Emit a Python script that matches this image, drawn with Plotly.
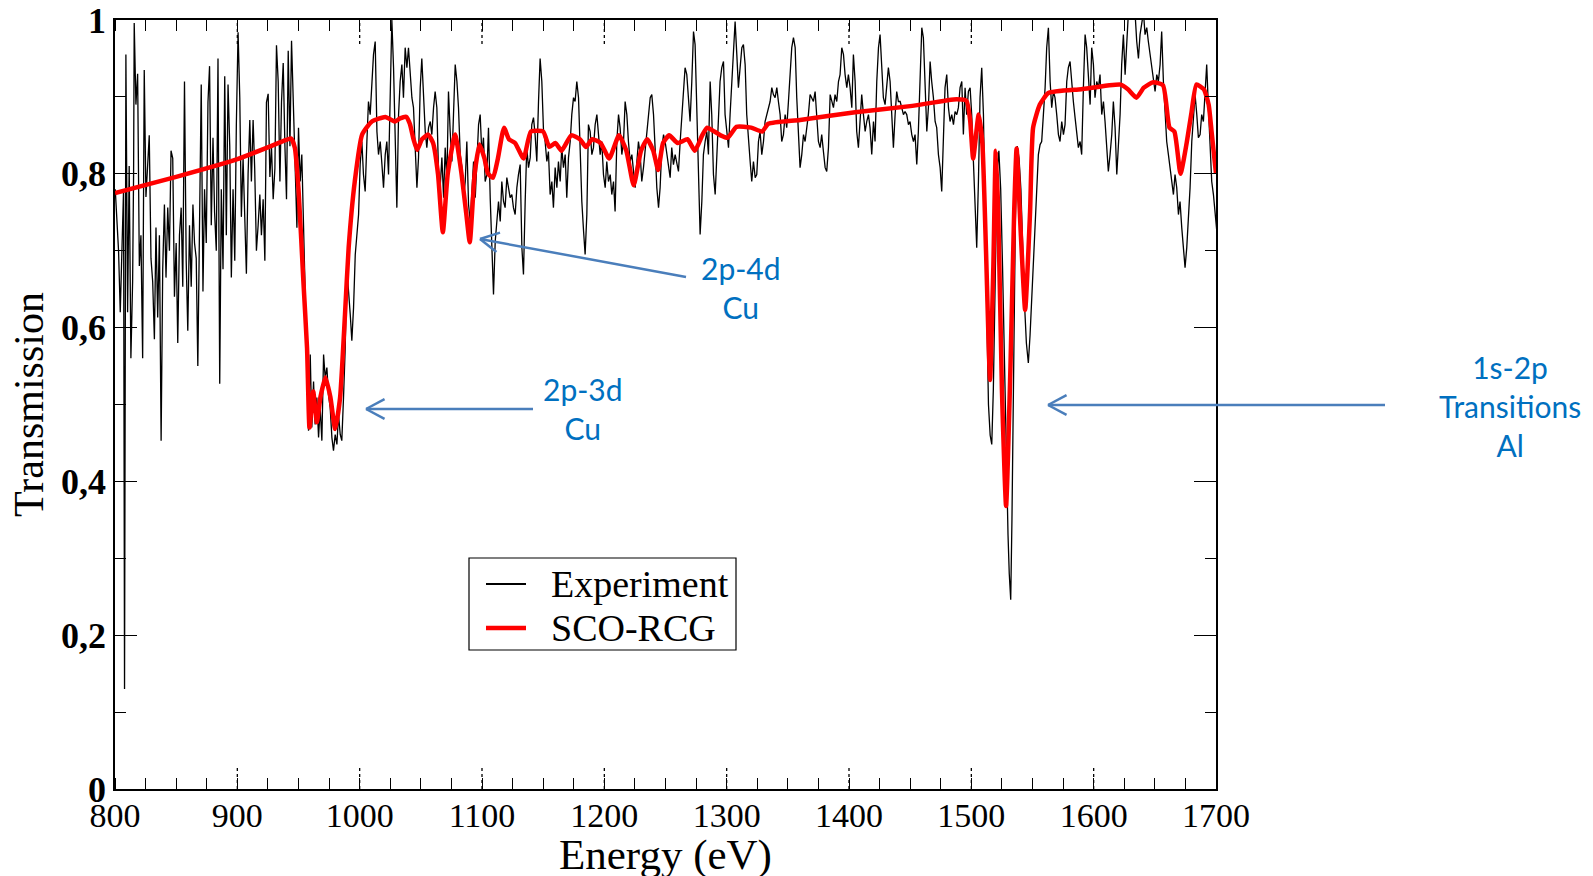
import math
import plotly.graph_objects as go

# ---------------- data ----------------
exp_energy = [
800.2,801.5,802.9,804.3,805.6,807.0,807.8,808.9,810.3,811.6,813.0,814.4,815.2,815.7,817.1,818.5,819.9,821.2,822.6,823.9,
825.3,826.7,828.0,829.4,830.8,832.2,833.5,834.9,836.3,837.7,839.0,840.4,841.7,843.1,844.5,845.8,847.2,848.6,850.0,851.3,
852.7,854.1,855.4,856.8,858.2,859.5,860.9,862.3,863.7,865.0,866.4,867.7,869.1,870.5,871.9,873.2,874.6,876.0,877.3,878.7,
880.1,881.4,882.8,884.2,885.6,886.9,888.3,889.7,891.0,892.4,893.8,895.1,896.5,897.9,899.2,900.6,902.0,903.3,904.7,906.1,
907.4,908.8,910.2,911.5,912.9,914.2,915.6,917.0,918.4,919.7,921.1,922.5,923.8,925.2,926.6,927.9,929.3,930.7,932.0,933.4,
934.8,936.1,937.5,938.9,940.2,941.6,943.0,944.3,945.7,
947.3,948.7,950.0,951.4,952.7,954.1,955.5,956.8,958.2,959.6,960.9,962.3,963.6,965.0,966.4,967.7,969.1,970.5,971.8,973.2,
974.5,975.9,977.3,978.6,980.0,981.4,982.7,984.1,985.4,986.8,988.2,989.5,990.9,992.3,993.6,995.0,996.4,997.7,999.1,1000.4,
1001.8,1003.1,1004.5,1005.9,1007.2,1008.6,1010.0,1011.3,1012.7,1014.1,1015.4,1016.8,1018.2,1019.5,1020.9,1022.2,1023.6,1024.9,1026.3,1027.7,
1029.0,1030.4,1031.8,1033.1,1034.5,1035.8,1037.2,1038.6,1039.9,1041.3,1042.7,1044.0,1045.4,1046.8,1048.1,1049.5,1050.8,1052.2,1053.6,1054.9,
1056.3,1057.7,1059.0,1060.4,1061.7,1063.1,1064.5,1065.8,1067.2,1068.6,1069.9,1071.3,1072.6,1074.0,1075.4,1076.7,1078.1,1079.5,1080.8,1082.2,
1083.6,1084.9,1086.3,1087.6,1089.0,1090.4,1091.7,1093.1,1094.5,1095.8,1097.2,
1098.5,1099.9,1101.2,1102.6,1104.0,1105.3,1106.7,1108.0,1109.4,1110.8,1112.1,1113.5,1114.9,1116.2,1117.6,1118.9,1120.3,1121.7,1123.0,1124.4,
1125.7,1127.1,1128.5,1129.8,1131.2,1132.6,1133.9,1135.3,1136.6,1138.0,1139.4,1140.7,1142.1,1143.4,1144.8,1146.2,1147.5,1148.9,1150.3,1151.6,
1153.0,1154.3,1155.7,1157.1,1158.4,1159.8,1161.2,1162.5,1163.9,1165.2,1166.6,1168.0,1169.3,1170.7,1172.1,1173.4,1174.8,1176.1,1177.5,1178.9,
1180.2,1181.6,1183.0,1184.3,1185.7,1187.0,1188.4,1189.8,1191.1,1192.5,1193.9,1195.2,1196.6,1197.9,1199.3,1200.7,1202.0,1203.4,1204.8,1206.1,
1207.5,1208.8,1210.2,1211.6,1212.9,1214.3,1215.7,1217.0,1218.4,1219.7,1221.1,1222.5,1223.8,1225.2,1226.6,1227.9,1229.3,1230.6,1232.0,1233.4,
1234.7,1236.1,1237.5,1238.8,1240.2,1241.5,1242.9,1244.3,1245.6,1247.0,1248.4,
1249.7,1251.1,1252.4,1253.8,1255.1,1256.5,1257.9,1259.2,1260.6,1262.0,1263.3,1264.7,1266.0,1267.4,1268.8,1270.1,1271.5,1272.9,1274.2,1275.6,
1276.9,1278.3,1279.7,1281.0,1282.4,1283.8,1285.1,1286.5,1287.8,1289.2,1290.6,1291.9,1293.3,1294.6,1296.0,1297.4,1298.7,1300.1,1301.5,1302.8,
1304.2,1305.5,1306.9,1308.3,1309.6,1311.0,1312.4,1313.7,1315.1,1316.4,1317.8,1319.2,1320.5,1321.9,1323.3,1324.6,1326.0,1327.3,1328.7,1330.1,
1331.4,1332.8,1334.2,1335.5,1336.9,1338.2,1339.6,1341.0,1342.3,1343.7,1345.0,1346.4,1347.8,1349.1,1350.5,1351.9,1353.2,1354.6,1356.0,1357.3,
1358.7,1360.0,1361.4,1362.8,1364.1,1365.5,1366.8,1368.2,1369.6,1370.9,1372.3,1373.7,1375.0,1376.4,1377.7,1379.1,1380.5,1381.8,1383.2,1384.6,
1385.9,1387.3,1388.6,1390.0,1391.4,1392.7,1394.1,1395.5,1396.8,1398.2,1399.5,
1400.9,1402.3,1403.6,1405.0,1406.3,1407.7,1409.1,1410.4,1411.8,1413.2,1414.5,1415.9,1417.2,1418.6,1420.0,1421.3,1422.7,1424.1,1425.4,1426.8,
1428.1,1429.5,1430.9,1432.2,1433.6,1435.0,1436.3,1437.7,1439.0,1440.4,1441.8,1443.1,1444.5,1445.8,1447.2,1448.6,1449.9,1451.3,1452.7,1454.0,
1455.4,1456.7,1458.1,1459.5,1460.8,1462.2,1463.6,1464.9,1466.3,1467.6,1469.0,1470.4,1471.7,1473.1,1474.5,1475.8,1477.2,1478.5,1479.9,1481.3,
1482.6,1484.0,1485.4,1486.7,1488.1,1489.4,1490.8,1492.2,1493.5,1494.9,1496.2,1497.6,1499.0,1500.3,1501.7,1503.1,1504.4,1505.8,1507.1,1508.5,
1509.9,1511.2,1512.6,1514.0,1515.4,1516.7,1518.0,1519.5,1521.0,1522.5,1524.0,1525.5,1527.0,1528.5,1530.0,1531.0,1532.2,1533.2,1534.5,1536.0,
1537.5,1539.0,1540.5,1542.0,1543.5,1545.0,1546.6,1548.0,1549.5,1551.0,
1552.1,1553.5,1554.8,1556.2,1557.5,1558.9,1560.3,1561.6,1563.0,1564.4,1565.7,1567.1,1568.4,1569.8,1571.2,1572.5,1573.9,1575.3,1576.6,1578.0,
1579.3,1580.7,1582.1,1583.4,1584.8,1586.2,1587.5,1588.9,1590.2,1591.6,1593.0,1594.3,1595.7,1597.1,1598.4,1599.8,1601.1,1602.5,1603.9,1605.2,
1606.6,1608.0,1609.3,1610.7,1612.0,1613.4,1614.8,1616.1,1617.5,1618.9,1620.2,1621.6,1622.9,1624.3,1625.7,1627.0,1628.4,1629.8,1631.1,1632.5,
1633.8,1635.2,1636.6,1637.9,1639.3,1640.7,1642.0,1643.4,1644.7,1646.1,1647.5,1648.8,1650.2,1651.6,1652.9,1654.3,1655.6,1657.0,1658.4,1659.7,
1661.1,1662.5,1663.8,1665.2,1666.5,1667.9,1669.3,1670.6,1672.0,1673.4,1674.7,1676.1,1677.4,1678.8,1680.2,1681.5,1682.9,1684.3,1685.6,1687.0,
1688.3,1689.7,1691.1,1692.4,1693.8,1695.2,1696.5,1697.9,1699.2,1700.6,
]

exp_trans = [
0.78,0.74,0.70,0.62,0.70,0.78,0.13,0.955,0.62,0.81,0.56,0.66,0.80,0.996,0.89,0.93,0.68,0.72,0.56,0.935,
0.77,0.81,0.85,0.69,0.66,0.585,0.73,0.613,0.72,0.453,0.676,0.76,0.665,0.756,0.70,0.83,0.82,0.64,0.71,0.58,
0.72,0.756,0.653,0.92,0.687,0.596,0.733,0.653,0.76,0.71,0.69,0.55,0.78,0.916,0.647,0.78,0.71,0.893,0.94,0.733,
0.847,0.75,0.70,0.95,0.527,0.78,0.676,0.927,0.72,0.916,0.836,0.665,0.78,0.687,0.864,0.984,0.899,0.744,0.82,0.733,
0.67,0.80,0.87,0.79,0.87,0.807,0.70,0.733,0.773,0.72,0.767,0.687,0.893,0.904,0.796,0.836,0.767,0.807,0.967,0.92,
0.79,0.893,0.944,0.836,0.767,0.96,0.836,0.973,0.893,
0.825,0.73,0.86,0.79,0.825,0.73,0.64,0.55,0.466,0.565,0.47,0.53,0.474,0.509,0.457,0.496,0.453,0.565,0.535,0.548,
0.513,0.496,0.457,0.44,0.461,0.448,0.487,0.461,0.453,0.509,0.574,0.678,0.652,0.617,0.583,0.626,0.695,0.726,0.747,0.812,
0.842,0.799,0.777,0.842,0.894,0.877,0.92,0.955,0.972,0.855,0.825,0.842,0.812,0.782,0.825,0.842,0.799,0.886,1.0,0.938,
0.834,0.756,0.877,0.92,0.942,0.899,0.964,0.938,0.964,0.929,0.899,0.886,0.825,0.782,0.821,0.912,0.95,0.899,0.855,0.834,
0.86,0.868,0.851,0.886,0.907,0.886,0.799,0.782,0.821,0.769,0.834,0.79,0.907,0.855,0.816,0.877,0.942,0.92,0.886,0.825,
0.808,0.769,0.79,0.842,0.76,0.738,0.782,0.816,0.769,0.825,0.864,
0.877,0.825,0.847,0.79,0.799,0.86,0.769,0.704,0.643,0.712,0.738,0.764,0.738,0.79,0.764,0.756,0.795,0.782,0.769,0.773,
0.756,0.747,0.782,0.799,0.812,0.704,0.669,0.764,0.834,0.808,0.821,0.864,0.873,0.851,0.816,0.894,0.95,0.92,0.855,0.842,
0.816,0.829,0.773,0.79,0.756,0.808,0.782,0.816,0.79,0.834,0.808,0.825,0.769,0.821,0.842,0.877,0.899,0.894,0.92,0.899,
0.825,0.764,0.726,0.695,0.747,0.864,0.855,0.825,0.834,0.864,0.877,0.851,0.825,0.842,0.799,0.782,0.816,0.79,0.799,0.773,
0.79,0.751,0.842,0.877,0.86,0.825,0.842,0.894,0.877,0.842,0.816,0.825,0.799,0.782,0.816,0.842,0.825,0.79,0.808,0.834,
0.855,0.877,0.899,0.903,0.877,0.834,0.782,0.756,0.782,0.834,0.851,
0.842,0.825,0.808,0.795,0.834,0.812,0.825,0.812,0.803,0.842,0.877,0.912,0.938,0.929,0.899,0.868,0.92,0.985,0.968,0.877,
0.79,0.721,0.764,0.825,0.842,0.855,0.825,0.92,0.877,0.799,0.773,0.825,0.877,0.92,0.938,0.946,0.877,0.855,0.834,0.877,
0.92,0.964,0.998,0.955,0.912,0.938,0.964,0.968,0.942,0.877,0.842,0.816,0.79,0.816,0.795,0.799,0.842,0.855,0.825,0.842,
0.868,0.877,0.886,0.894,0.912,0.903,0.899,0.912,0.894,0.877,0.842,0.851,0.877,0.86,0.894,0.938,0.964,0.977,0.964,0.899,
0.851,0.808,0.825,0.851,0.842,0.86,0.877,0.903,0.899,0.894,0.907,0.877,0.842,0.834,0.851,0.829,0.808,0.803,0.834,0.903,
0.894,0.886,0.903,0.894,0.92,0.929,0.964,0.955,0.929,0.912,0.929,
0.912,0.886,0.955,0.92,0.855,0.834,0.877,0.903,0.877,0.855,0.868,0.877,0.86,0.825,0.868,0.842,0.92,0.964,0.981,0.942,
0.899,0.89,0.92,0.938,0.92,0.877,0.834,0.877,0.907,0.894,0.894,0.886,0.877,0.881,0.877,0.864,0.868,0.851,0.842,0.851,
0.812,0.855,0.92,0.99,0.977,0.92,0.855,0.886,0.946,0.92,0.899,0.868,0.86,0.825,0.808,0.777,0.842,0.912,0.929,0.886,
0.868,0.877,0.864,0.881,0.877,0.886,0.912,0.92,0.851,0.912,0.877,0.907,0.912,0.877,0.816,0.747,0.704,0.79,0.899,0.938,
0.877,0.747,0.60,0.50,0.46,0.448,0.52,0.68,0.80,0.83,0.78,0.68,0.55,0.42,0.33,0.28,0.246,0.35,0.55,0.74,
0.836,0.82,0.78,0.70,0.63,0.58,0.554,0.59,0.64,0.70,
0.73,0.773,0.825,0.838,0.842,0.877,0.912,0.964,0.99,0.92,0.886,0.907,0.899,0.877,0.851,0.842,0.868,0.851,0.864,0.92,
0.938,0.946,0.912,0.894,0.873,0.855,0.834,0.842,0.825,0.912,0.981,0.964,0.92,0.89,0.964,0.942,0.899,0.92,0.912,0.929,
0.877,0.894,0.868,0.834,0.803,0.825,0.851,0.894,0.86,0.799,0.834,0.877,0.942,0.981,0.929,0.972,1.01,1.02,1.01,1.02,
1.01,0.972,0.95,0.981,1.0,1.01,0.981,0.99,0.972,0.955,0.942,0.92,0.907,0.929,0.92,0.942,0.985,0.92,0.877,0.842,
0.825,0.808,0.79,0.773,0.799,0.782,0.747,0.764,0.73,0.708,0.678,0.704,0.738,0.782,0.842,0.877,0.903,0.877,0.847,0.851,
0.877,0.868,0.903,0.942,0.886,0.825,0.79,0.773,0.747,0.726,
]

model_energy = [
800,850,900,940,944,947,950,954,957,959,962,965,968,972,976,980,984,988,991,996,
1002,1010,1021,1026,1029,1033,1038,1041,1044,1047,1051,1056,1060,1064,1068,1072,1078,1083,1087,1090,
1094,1098,1102,1105,1109,1113,1118,1122,1127,1134,1140,1150,1155,1160,1165,1173,1180,1185,1190,1197,
1204,1212,1218,1224,1230,1235,1240,1244,1248,1253,1260,1268,1274,1280,1284,1290,1295,1301,1308,1320,
1329,1334,1360,1405,1450,1488,1496,1499,1501.5,1506,1509,1512,1515.3,1518,1520,1522,1525,1528.4,1532,1535,
1537,1540.5,1544,1548,1550.5,1556,1563,1590,1622,1628,1635,1641,1648.6,1656.7,1662,1666,1671,1676,1680,1684,
1690,1694,1696.5,1700,
]

model_trans = [
0.775,0.796,0.819,0.844,0.846,0.834,0.78,0.66,0.573,0.47,0.517,0.477,0.51,0.535,0.51,0.468,0.509,0.617,0.704,0.79,
0.851,0.868,0.874,0.87,0.868,0.872,0.874,0.865,0.845,0.831,0.845,0.851,0.84,0.80,0.724,0.80,0.851,0.803,0.75,0.711,
0.80,0.838,0.82,0.80,0.795,0.82,0.86,0.845,0.84,0.82,0.855,0.855,0.835,0.84,0.83,0.85,0.845,0.835,0.845,0.84,
0.82,0.85,0.83,0.785,0.83,0.845,0.83,0.805,0.84,0.85,0.84,0.845,0.83,0.85,0.86,0.855,0.85,0.847,0.861,0.86,
0.855,0.865,0.87,0.88,0.888,0.897,0.895,0.87,0.82,0.877,0.84,0.70,0.532,0.68,0.83,0.75,0.52,0.368,0.55,0.75,
0.833,0.72,0.623,0.75,0.86,0.89,0.905,0.91,0.916,0.91,0.899,0.912,0.919,0.915,0.86,0.855,0.80,0.84,0.88,0.916,
0.91,0.89,0.853,0.80,
]

x_ticks = [800, 900, 1000, 1100, 1200, 1300, 1400, 1500, 1600, 1700]
y_ticks = [0, 0.2, 0.4, 0.6, 0.8, 1]
series_names = ["Experiment", "SCO-RCG"]
series_colors = ["black", "#ff0000"]
series_widths = [1.3, 4.5]

# ---------------- layout helpers (page pixels -> paper) ----------------
W, H = 1593, 876
L, R, T, B = 115, 377, 20, 87
PW, PH = W - L - R, H - T - B

def px(xp):
    return (xp - L) / PW

def py(yp):
    return (H - B - yp) / PH

fig = go.Figure()
fig.add_trace(go.Scatter(x=exp_energy, y=exp_trans, mode="lines", name=series_names[0],
                         line=dict(color=series_colors[0], width=series_widths[0])))
fig.add_trace(go.Scatter(x=model_energy, y=model_trans, mode="lines", name=series_names[1],
                         line=dict(color=series_colors[1], width=series_widths[1], shape="spline", smoothing=0.5)))

serif = "Liberation Serif, Times New Roman, serif"

fig.update_layout(
    width=W, height=H,
    margin=dict(l=L, r=R, t=T, b=B, pad=0),
    paper_bgcolor="white", plot_bgcolor="white",
    separators=",.",
    showlegend=False,
    xaxis=dict(range=[800, 1700], tickvals=x_ticks, ticks="", showgrid=False, zeroline=False,
               showline=True, linecolor="black", linewidth=1.5, mirror="allticks",
               minor=dict(dtick=25, tick0=800, ticks="inside", ticklen=11, tickcolor="black", tickwidth=1.2,
                          showgrid=False),
               tickfont=dict(family=serif, size=34, color="black"),
               ticklabelstandoff=-5,
               automargin=False),
    yaxis=dict(range=[0, 1], tickvals=y_ticks, ticks="inside", ticklen=22, tickwidth=1.2, tickcolor="black",
               showgrid=False, zeroline=False, showline=True, linecolor="black", linewidth=1.5,
               mirror="allticks",
               minor=dict(dtick=0.1, tick0=0, ticks="inside", ticklen=11, tickcolor="black", tickwidth=1.2,
                          showgrid=False),
               tickfont=dict(family=serif, size=36, color="black", weight="bold"),
               title=dict(text="Transmission", font=dict(family=serif, size=42, color="black"), standoff=4),
               automargin=False),
)

# x-axis title placed just below the tick labels
fig.add_annotation(text="Energy (eV)", x=0.5, y=py(829), xref="paper", yref="paper", showarrow=False,
                   xanchor="center", yanchor="top", font=dict(family=serif, size=43, color="black"))

# dotted major ticks on bottom and top of the energy axis
for v in x_ticks[1:-1]:
    fig.add_shape(type="line", xref="x", yref="paper", x0=v, x1=v, ysizemode="pixel", yanchor=0,
                  y0=0, y1=24, line=dict(color="black", width=1.3, dash="dot"))
    fig.add_shape(type="line", xref="x", yref="paper", x0=v, x1=v, ysizemode="pixel", yanchor=1,
                  y0=-24, y1=0, line=dict(color="black", width=1.3, dash="dot"))

# legend box drawn in page space
fig.add_shape(type="rect", xref="paper", yref="paper", x0=px(469), x1=px(736), y0=py(558), y1=py(650),
              line=dict(color="black", width=1.2), fillcolor="white", layer="above")
for i, (nm, col, wd) in enumerate(zip(series_names, series_colors, series_widths)):
    ly = 584 + 44 * i
    fig.add_shape(type="line", xref="paper", yref="paper", x0=px(486), x1=px(526), y0=py(ly), y1=py(ly),
                  line=dict(color=col, width=wd + 0.5 if i == 0 else wd), layer="above")
    fig.add_annotation(text=nm, x=px(549), y=py(ly), xref="paper", yref="paper", showarrow=False,
                       xanchor="left", yanchor="middle",
                       font=dict(family=serif, size=38, color="black"))

# annotation arrows (tail -> tip, in page pixels) with open chevron heads
arrow_color = "#4a7ebb"
arrows = [((533, 409), (366, 409)), ((686, 277), (480, 239)), ((1385, 405), (1048, 405))]
for (tx, ty), (hx, hy) in arrows:
    fig.add_shape(type="line", xref="paper", yref="paper", x0=px(tx), y0=py(ty), x1=px(hx), y1=py(hy),
                  line=dict(color=arrow_color, width=2.5))
    ang = math.atan2(ty - hy, tx - hx)
    for s in (1, -1):
        a = ang + s * math.radians(28)
        ex, ey = hx + 21 * math.cos(a), hy + 21 * math.sin(a)
        fig.add_shape(type="line", xref="paper", yref="paper", x0=px(hx), y0=py(hy), x1=px(ex), y1=py(ey),
                      line=dict(color=arrow_color, width=2.5))

label_font = dict(family="Lato, Open Sans, sans-serif", size=30, color="#0070c0")
labels = [("2p-4d<br>Cu", 741, 287), ("2p-3d<br>Cu", 583, 409), ("1s-2p<br>Transitions<br>Al", 1510, 406)]
for text, lx, ly in labels:
    fig.add_annotation(text=text, x=px(lx), y=py(ly), xref="paper", yref="paper", showarrow=False,
                       xanchor="center", yanchor="middle", align="center", font=label_font)

fig.write_html("out.html")
